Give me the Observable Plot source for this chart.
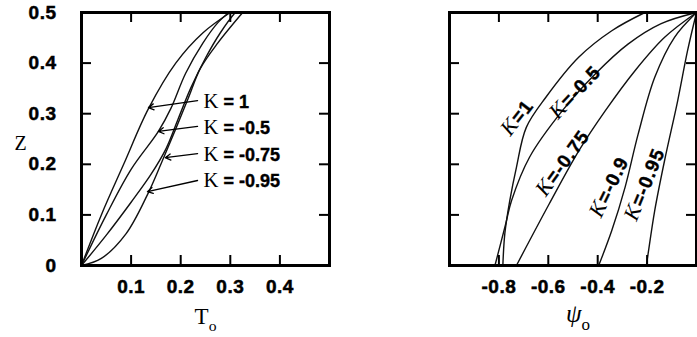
<!DOCTYPE html>
<html><head><meta charset="utf-8">
<script src="https://cdn.jsdelivr.net/npm/d3@7"></script>
<script src="https://cdn.jsdelivr.net/npm/@observablehq/plot@0.6"></script>
<style>
body{margin:0;background:#fff;}
#wrap{display:flex;width:697px;height:337px;overflow:hidden;background:#fff;}
#wrap svg{display:block;overflow:visible;}
</style></head><body><div id="wrap"></div>
<script>
// ---------- Left panel: Z vs T_o ----------
const leftKeys = ["K = 1", "K = -0.5", "K = -0.75", "K = -0.95"];
const tK1   = [0, 0.04, 0.085, 0.135, 0.19, 0.245, 0.30];
const zK1   = [0, 0.10, 0.20, 0.31, 0.40, 0.46, 0.50];
const tK05  = [0, 0.05, 0.10, 0.155, 0.18, 0.21, 0.245, 0.275, 0.297];
const zK05  = [0, 0.10, 0.19, 0.265, 0.31, 0.38, 0.44, 0.48, 0.50];
const tK075 = [0, 0.05, 0.10, 0.14, 0.17, 0.195, 0.22, 0.25, 0.28, 0.31];
const zK075 = [0, 0.06, 0.125, 0.18, 0.23, 0.29, 0.35, 0.41, 0.46, 0.50];
const tK095 = [0, 0.04, 0.09, 0.133, 0.16, 0.19, 0.215, 0.24, 0.275, 0.325];
const zK095 = [0, 0.014, 0.063, 0.14, 0.20, 0.27, 0.33, 0.39, 0.44, 0.50];

const xTicksL = [0.1, 0.2, 0.3, 0.4];
const xLabelsL = ["0.1", "0.2", "0.3", "0.4"];
const yTicksL = [0, 0.1, 0.2, 0.3, 0.4, 0.5];
const yLabelsL = ["0", "0.1", "0.2", "0.3", "0.4", "0.5"];
const yInnerTicks = [0.1, 0.2, 0.3, 0.4];

// annotation labels and arrows (data coordinates)
const labelTL = [0.246, 0.246, 0.246, 0.246];
const labelZL = [0.322, 0.271, 0.217, 0.167];
const arrowT1 = [0.234, 0.234, 0.234, 0.234];
const arrowZ1 = [0.326, 0.275, 0.221, 0.168];
const arrowT2 = [0.135, 0.155, 0.169, 0.133];
const arrowZ2 = [0.312, 0.265, 0.213, 0.146];

// ---------- Right panel: Z vs psi_o ----------
const rightKeys = ["K=1", "K=-0.5", "K=-0.75", "K=-0.9", "K=-0.95"];
const pK1   = [-0.209, -0.343, -0.476, -0.609, -0.689, -0.729, -0.756, -0.776, -0.784];
const qK1   = [0.5, 0.464, 0.412, 0.333, 0.273, 0.194, 0.128, 0.063, 0];
const pK05  = [0, -0.143, -0.276, -0.409, -0.543, -0.676, -0.749, -0.772, -0.816];
const qK05  = [0.5, 0.478, 0.438, 0.379, 0.306, 0.214, 0.128, 0.083, 0];
const pK075 = [0, -0.129, -0.249, -0.369, -0.476, -0.596, -0.729];
const qK075 = [0.5, 0.451, 0.385, 0.306, 0.227, 0.122, 0];
const pK09  = [0, -0.089, -0.169, -0.236, -0.289, -0.343, -0.396];
const qK09  = [0.5, 0.451, 0.372, 0.26, 0.155, 0.069, 0];
const pK095 = [0, -0.036, -0.076, -0.129, -0.169, -0.196, -0.203];
const qK095 = [0.5, 0.425, 0.326, 0.208, 0.109, 0.023, 0];

const xTicksR = [-0.8, -0.6, -0.4, -0.2];
const xLabelsR = ["-0.8", "-0.6", "-0.4", "-0.2"];

const labelPR = [-0.725, -0.49, -0.54, -0.352, -0.208];
const labelZR = [0.292, 0.342, 0.202, 0.155, 0.16];
const labelRot = [-52, -47, -54, -64, -68];

// ---------- build ----------
const rows = (xs, ys, k) => xs.map((x, i) => ({x, y: ys[i], k}));
const leftRows = [
  ...rows(tK1, zK1, "1"), ...rows(tK05, zK05, "-0.5"),
  ...rows(tK075, zK075, "-0.75"), ...rows(tK095, zK095, "-0.95")
];
const rightRows = [
  ...rows(pK1, qK1, "1"), ...rows(pK05, qK05, "-0.5"), ...rows(pK075, qK075, "-0.75"),
  ...rows(pK09, qK09, "-0.9"), ...rows(pK095, qK095, "-0.95")
];

const sans = "'Liberation Sans', Arial, Helvetica, sans-serif";
const serif = "'Liberation Serif', 'Times New Roman', serif";
const baseStyle = {fontFamily: sans, fontSize: "17px", fontWeight: "bold", color: "#000", background: "transparent", overflow: "visible"};

function tickMarks(xt, yt, innerW, innerH, len) {
  return [
    Plot.tickX(xt, {x: d => d, insetTop: innerH - len, strokeWidth: 2, stroke: "#000"}),
    Plot.tickX(xt, {x: d => d, insetBottom: innerH - len, strokeWidth: 2, stroke: "#000"}),
    Plot.tickY(yt, {y: d => d, insetRight: innerW - len, strokeWidth: 2, stroke: "#000"}),
    Plot.tickY(yt, {y: d => d, insetLeft: innerW - len, strokeWidth: 2, stroke: "#000"})
  ];
}

const L = {w: 340, h: 337, ml: 81, mr: 11, mt: 12, mb: 72};
const left = Plot.plot({
  width: L.w, height: L.h, marginLeft: L.ml, marginRight: L.mr, marginTop: L.mt, marginBottom: L.mb,
  x: {domain: [0, 0.5], axis: null},
  y: {domain: [0, 0.5], axis: null},
  style: baseStyle,
  marks: [
    Plot.line(leftRows, {x: "x", y: "y", z: "k", curve: "catmull-rom", stroke: "#111", strokeWidth: 1.4}),
    ...tickMarks(xTicksL, yInnerTicks, L.w - L.ml - L.mr, L.h - L.mt - L.mb, 10),
    Plot.frame({stroke: "#000", strokeWidth: 3}),
    Plot.axisX(xTicksL, {tickSize: 0, tickPadding: 14, tickFormat: d => xLabelsL[xTicksL.indexOf(d)], fontSize: 18, fontWeight: "bold", label: null}),
    Plot.axisY(yTicksL, {tickSize: 0, tickPadding: 25, tickFormat: d => yLabelsL[yTicksL.indexOf(d)], fontSize: 18, fontWeight: "bold", label: null}),
    Plot.arrow(leftKeys, {x1: arrowT1, y1: arrowZ1, x2: arrowT2, y2: arrowZ2, stroke: "#000", strokeWidth: 1.3, headLength: 7}),
    Plot.text(leftKeys, {x: labelTL, y: labelZL, text: d => d, textAnchor: "start", fontSize: 18, fontWeight: "bold", fill: "#000"}),
    Plot.text(["T_o"], {frameAnchor: "bottom", dy: 58, fontFamily: serif, fontWeight: "normal", fontSize: 23, fill: "#000"}),
    Plot.text(["Z"], {frameAnchor: "left", dx: -67, dy: 5, fontFamily: serif, fontWeight: "normal", fontSize: 20, fill: "#000"})
  ]
});

const R = {w: 357, h: 337, ml: 109, mr: 1, mt: 12, mb: 72};
const right = Plot.plot({
  width: R.w, height: R.h, marginLeft: R.ml, marginRight: R.mr, marginTop: R.mt, marginBottom: R.mb,
  x: {domain: [-1, 0], axis: null},
  y: {domain: [0, 0.5], axis: null},
  style: baseStyle,
  marks: [
    Plot.line(rightRows, {x: "x", y: "y", z: "k", curve: "catmull-rom", stroke: "#111", strokeWidth: 1.4}),
    ...tickMarks(xTicksR, yInnerTicks, R.w - R.ml - R.mr, R.h - R.mt - R.mb, 10),
    Plot.frame({stroke: "#000", strokeWidth: 3}),
    Plot.axisX(xTicksR, {tickSize: 0, tickPadding: 14, tickFormat: d => xLabelsR[xTicksR.indexOf(d)], fontSize: 18, fontWeight: "bold", label: null}),
    Plot.text(rightKeys, {x: labelPR, y: labelZR, rotate: labelRot, text: d => d, fontSize: 19, fontWeight: "bold", fill: "#000"}),
    Plot.text(["ψ_o"], {frameAnchor: "bottom", dx: 5, dy: 56, fontFamily: serif, fontWeight: "normal", fontStyle: "italic", fontSize: 25, fill: "#000"})
  ]
});

document.getElementById("wrap").append(left, right);

// Rich text: serif "K" inside labels, subscripts in axis titles, heavier tick labels
function enrich(svg, italicK) {
  const s3 = d3.select(svg);
  s3.selectAll('g[aria-label$="tick label"] text')
    .attr("font-size", "19px").attr("letter-spacing", "0.5px")
    .attr("stroke", "#000").attr("stroke-width", 0.5);
  s3.selectAll("text").each(function() {
    const el = d3.select(this);
    const s = this.textContent;
    if (/^K/.test(s) && this.childElementCount === 0) {
      el.text(null);
      if (italicK) el.attr("letter-spacing", "1px");
      el.append("tspan").attr("font-family", serif).attr("font-weight", "normal")
        .attr("font-style", italicK ? "italic" : "normal").attr("font-size", "1.15em").text("K");
      el.append("tspan").attr("stroke", "#000").attr("stroke-width", 0.4).text(s.slice(1));
    } else if (s.includes("_") && this.childElementCount === 0) {
      const [a, b] = s.split("_");
      el.text(null);
      el.append("tspan").text(a);
      el.append("tspan").attr("font-style", "normal").attr("font-size", "0.68em").attr("dy", "0.5em").text(b);
    }
  });
}
enrich(left, false);
enrich(right, true);
</script></body></html>
